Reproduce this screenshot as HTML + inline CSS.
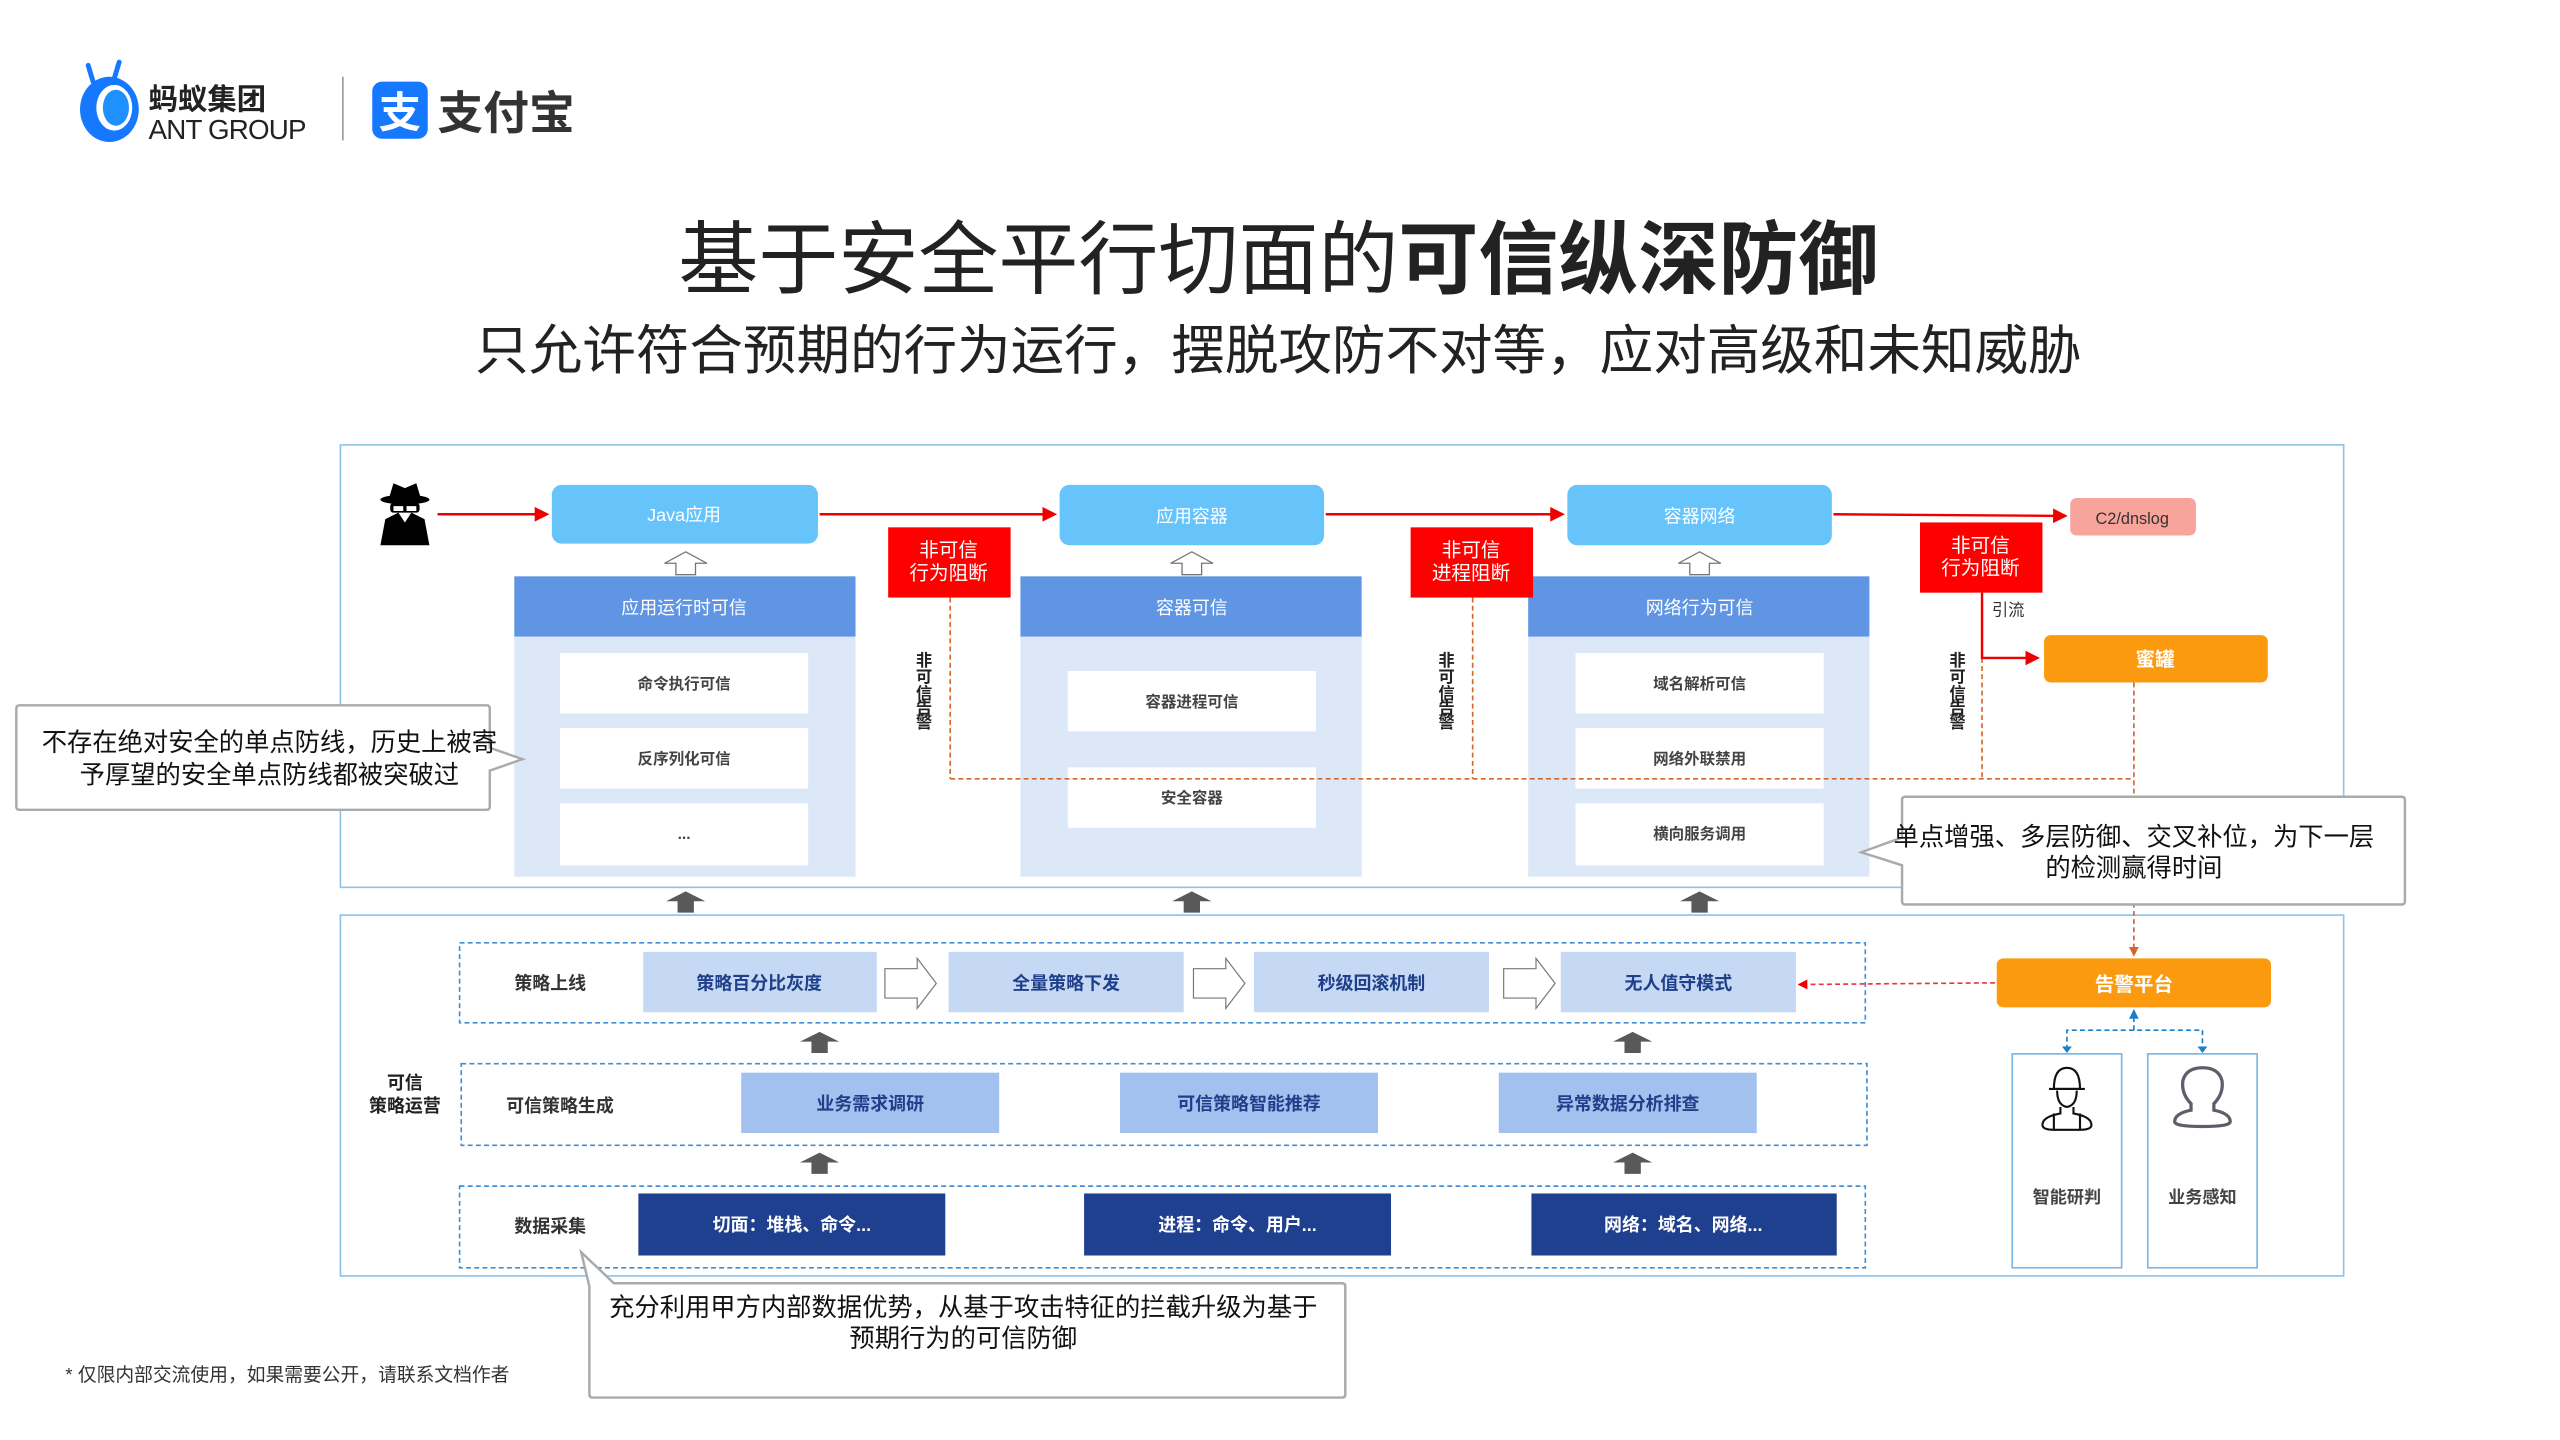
<!DOCTYPE html>
<html><head><meta charset="utf-8"><style>
html,body{margin:0;padding:0;background:#fff;width:2560px;height:1440px;overflow:hidden}
svg text{font-family:"Liberation Sans","Noto Sans CJK SC",sans-serif}
</style></head><body>
<svg width="2560" height="1440" viewBox="0 0 1568 882" xmlns="http://www.w3.org/2000/svg">
<defs>
<marker id="ar" markerWidth="6" markerHeight="6" refX="5" refY="3" orient="auto"><path d="M0,0 L6,3 L0,6 z" fill="#e00"/></marker>
<marker id="ao" markerWidth="6" markerHeight="6" refX="5" refY="3" orient="auto"><path d="M0,0 L6,3 L0,6 z" fill="#d4662a"/></marker>
<marker id="ab" markerWidth="6" markerHeight="6" refX="5" refY="3" orient="auto"><path d="M0,0 L6,3 L0,6 z" fill="#1a7fc9"/></marker>
<g id="up"><path d="M-12,6 L0,0 L12,6 L5,6 L5,13 L-5,13 L-5,6 z" fill="#595959"/></g>
<g id="hup"><path d="M-13,7 L0,0 L13,7 L6,7 L6,14 L-6,14 L-6,7 z" fill="#fff" stroke="#777" stroke-width="0.8"/></g>
<g id="hr"><path d="M0,7 L22,7 L22,0 L35,17 L22,34 L22,27 L0,27 z" fill="#fff" stroke="#777" stroke-width="0.8" transform="scale(0.9,0.9)"/></g>
</defs>

<!-- logos -->
<ellipse cx="67" cy="67" rx="18" ry="20" fill="#1677ff"/>
<ellipse cx="70" cy="66" rx="11" ry="14" fill="#fff"/>
<ellipse cx="71" cy="66" rx="8" ry="11" fill="#1e90ff"/>
<path d="M57,50 L54,40 M70,48 L73,38" stroke="#1677ff" stroke-width="3" stroke-linecap="round"/>
<text x="91" y="67" font-size="18" font-weight="bold" fill="#222">蚂蚁集团</text>
<text x="91" y="85" font-size="17" fill="#222" letter-spacing="-0.5">ANT GROUP</text>
<line x1="210" y1="47" x2="210" y2="86" stroke="#999" stroke-width="1"/>
<rect x="228" y="50" width="34" height="35" rx="6" fill="#1677ff"/>
<text x="245" y="78" font-size="26" font-weight="bold" fill="#fff" text-anchor="middle">支</text>
<text x="268" y="79" font-size="28" font-weight="bold" fill="#333">支付宝</text>

<!-- title -->
<text x="783" y="176" font-size="49" fill="#222" text-anchor="middle">基于安全平行切面的<tspan font-weight="bold">可信纵深防御</tspan></text>
<text x="783" y="226" font-size="32.8" fill="#222" text-anchor="middle">只允许符合预期的行为运行，摆脱攻防不对等，应对高级和未知威胁</text>

<!-- panels -->
<rect x="208.5" y="272.5" width="1227" height="271" fill="#fff" stroke="#8dc3ea" stroke-width="1"/>
<rect x="208.5" y="560.5" width="1227" height="221" fill="#fff" stroke="#8dc3ea" stroke-width="1"/>

<!-- spy -->
<g fill="#000">
<ellipse cx="248" cy="306" rx="15" ry="3"/>
<path d="M238,306 L241,296 L248,299 L255,296 L258,306 z"/>
<rect x="239" y="308" width="18" height="6" rx="2"/>
<path d="M233,334 L236,318 L244,314 L248,320 L252,314 L260,318 L263,334 z"/>
</g>
<path d="M241,310 L247,310 L247,313 L241,313 z M249,310 L255,310 L255,313 L249,313 z" fill="#fff"/>

<!-- top flow -->
<g stroke="#e00" stroke-width="1.5" fill="none">
<line x1="268" y1="315" x2="335" y2="315" marker-end="url(#ar)"/>
<line x1="502" y1="315" x2="646" y2="315" marker-end="url(#ar)"/>
<line x1="812" y1="315" x2="957" y2="315" marker-end="url(#ar)"/>
<line x1="1123" y1="315" x2="1265" y2="316" marker-end="url(#ar)"/>
</g>
<g font-size="11" fill="#fff" text-anchor="middle">
<rect x="338" y="297" width="163" height="36" rx="6" fill="#66c4fb"/><text x="419" y="319">Java应用</text>
<rect x="649" y="297" width="162" height="37" rx="6" fill="#66c4fb"/><text x="730" y="320">应用容器</text>
<rect x="960" y="297" width="162" height="37" rx="6" fill="#66c4fb"/><text x="1041" y="320">容器网络</text>
</g>
<rect x="1268" y="305" width="77" height="23" rx="4" fill="#f8a39b"/>
<text x="1306" y="321" font-size="10" fill="#333" text-anchor="middle">C2/dnslog</text>

<use href="#hup" x="420" y="338"/><use href="#hup" x="730" y="338"/><use href="#hup" x="1041" y="338"/>

<!-- columns -->
<g font-size="11" text-anchor="middle">
<rect x="315" y="353" width="209" height="37" fill="#5f95e3"/><text x="419" y="376" fill="#fff">应用运行时可信</text>
<rect x="315" y="390" width="209" height="147" fill="#dce8f8"/>
<rect x="625" y="353" width="209" height="37" fill="#5f95e3"/><text x="730" y="376" fill="#fff">容器可信</text>
<rect x="625" y="390" width="209" height="147" fill="#dce8f8"/>
<rect x="936" y="353" width="209" height="37" fill="#5f95e3"/><text x="1041" y="376" fill="#fff">网络行为可信</text>
<rect x="936" y="390" width="209" height="147" fill="#dce8f8"/>
</g>
<g fill="#fff">
<rect x="343" y="400" width="152" height="37"/><rect x="343" y="446" width="152" height="37"/><rect x="343" y="492" width="152" height="38"/>
<rect x="654" y="411" width="152" height="37"/><rect x="654" y="470" width="152" height="37"/>
<rect x="965" y="400" width="152" height="37"/><rect x="965" y="446" width="152" height="37"/><rect x="965" y="492" width="152" height="38"/>
</g>
<g font-size="9.5" font-weight="bold" fill="#444" text-anchor="middle">
<text x="419" y="422">命令执行可信</text><text x="419" y="468">反序列化可信</text><text x="419" y="514">...</text>
<text x="730" y="433">容器进程可信</text><text x="730" y="492">安全容器</text>
<text x="1041" y="422">域名解析可信</text><text x="1041" y="468">网络外联禁用</text><text x="1041" y="514">横向服务调用</text>
</g>

<!-- dashed orange alerts -->
<g stroke="#d4662a" stroke-width="1" stroke-dasharray="3,2" fill="none">
<line x1="582" y1="366" x2="582" y2="477"/>
<line x1="902" y1="366" x2="902" y2="477"/>
<line x1="1214" y1="403" x2="1214" y2="477"/>
<line x1="582" y1="477" x2="1307" y2="477"/>
<line x1="1307" y1="418" x2="1307" y2="585" marker-end="url(#ao)"/>
</g>
<path d="M1214,363 L1214,403 L1248,403" stroke="#e00" stroke-width="1.5" fill="none" marker-end="url(#ar)"/>
<text x="1220" y="377" font-size="10" fill="#333">引流</text>

<g fill="#fff" font-size="12" text-anchor="middle">
<rect x="544" y="323" width="75" height="43" fill="#f00"/><text x="581" y="341">非可信</text><text x="581" y="355">行为阻断</text>
<rect x="864" y="323" width="75" height="43" fill="#f00"/><text x="901" y="341">非可信</text><text x="901" y="355">进程阻断</text>
<rect x="1176" y="320" width="75" height="43" fill="#f00"/><text x="1213" y="338">非可信</text><text x="1213" y="352">行为阻断</text>
</g>
<g font-size="10" font-weight="bold" fill="#222" text-anchor="middle">
<text x="566" y="408">非</text><text x="566" y="418">可</text><text x="566" y="428">信</text><text x="566" y="437">告</text><text x="566" y="446">警</text>
<text x="886" y="408">非</text><text x="886" y="418">可</text><text x="886" y="428">信</text><text x="886" y="437">告</text><text x="886" y="446">警</text>
<text x="1199" y="408">非</text><text x="1199" y="418">可</text><text x="1199" y="428">信</text><text x="1199" y="437">告</text><text x="1199" y="446">警</text>
</g>
<rect x="1252" y="389" width="137" height="29" rx="4" fill="#fb9a0e"/>
<text x="1320" y="408" font-size="12" font-weight="bold" fill="#fff" text-anchor="middle">蜜罐</text>

<!-- callouts -->
<path d="M10,434 Q10,432 12,432 L298,432 Q300,432 300,434 L300,458 L320,465 L300,472 L300,494 Q300,496 298,496 L12,496 Q10,496 10,494 z" fill="#fff" stroke="#aaa" stroke-width="1.5"/>
<text x="165" y="460" font-size="15.5" fill="#111" text-anchor="middle">不存在绝对安全的单点防线，历史上被寄</text>
<text x="165" y="480" font-size="15.5" fill="#111" text-anchor="middle">予厚望的安全单点防线都被突破过</text>

<path d="M1165,490 Q1165,488 1167,488 L1471,488 Q1473,488 1473,490 L1473,552 Q1473,554 1471,554 L1167,554 Q1165,554 1165,552 L1165,530 L1140,522 L1165,513 z" fill="#fff" stroke="#aaa" stroke-width="1.5"/>
<text x="1307" y="518" font-size="15.5" fill="#111" text-anchor="middle">单点增强、多层防御、交叉补位，为下一层</text>
<text x="1307" y="537" font-size="15.5" fill="#111" text-anchor="middle">的检测赢得时间</text>

<use href="#up" x="420" y="546"/><use href="#up" x="730" y="546"/><use href="#up" x="1041" y="546"/>

<!-- bottom -->
<g fill="none" stroke="#3f8fd6" stroke-width="1" stroke-dasharray="3,2">
<rect x="281.5" y="577.5" width="861" height="49"/>
<rect x="282.5" y="651.5" width="861" height="50"/>
<rect x="281.5" y="726.5" width="861" height="50"/>
</g>
<text x="248" y="667" font-size="11" font-weight="bold" fill="#222" text-anchor="middle">可信</text>
<text x="248" y="681" font-size="11" font-weight="bold" fill="#222" text-anchor="middle">策略运营</text>
<g font-size="11" font-weight="bold" fill="#333" text-anchor="middle">
<text x="337" y="606">策略上线</text><text x="343" y="681">可信策略生成</text><text x="337" y="755">数据采集</text>
</g>
<g fill="#c5d9f4"><rect x="394" y="583" width="143" height="37"/><rect x="581" y="583" width="144" height="37"/><rect x="768" y="583" width="144" height="37"/><rect x="956" y="583" width="144" height="37"/></g>
<g fill="#a3c1ee"><rect x="454" y="657" width="158" height="37"/><rect x="686" y="657" width="158" height="37"/><rect x="918" y="657" width="158" height="37"/></g>
<g fill="#1f3f8f"><rect x="391" y="731" width="188" height="38"/><rect x="664" y="731" width="188" height="38"/><rect x="938" y="731" width="187" height="38"/></g>
<g font-size="11" font-weight="bold" fill="#1f3f8a" text-anchor="middle">
<text x="465" y="606">策略百分比灰度</text><text x="653" y="606">全量策略下发</text><text x="840" y="606">秒级回滚机制</text><text x="1028" y="606">无人值守模式</text>
<text x="533" y="680">业务需求调研</text><text x="765" y="680">可信策略智能推荐</text><text x="997" y="680">异常数据分析排查</text>
</g>
<g font-size="11" font-weight="bold" fill="#fff" text-anchor="middle">
<text x="485" y="754">切面：堆栈、命令...</text><text x="758" y="754">进程：命令、用户...</text><text x="1031" y="754">网络：域名、网络...</text>
</g>
<use href="#hr" x="542" y="587"/><use href="#hr" x="731" y="587"/><use href="#hr" x="921" y="587"/>
<use href="#up" x="502" y="632"/><use href="#up" x="1000" y="632"/>
<use href="#up" x="502" y="706"/><use href="#up" x="1000" y="706"/>

<rect x="1223" y="587" width="168" height="30" rx="4" fill="#fb9a0e"/>
<text x="1307" y="607" font-size="12" font-weight="bold" fill="#fff" text-anchor="middle">告警平台</text>
<line x1="1222" y1="602" x2="1102" y2="603" stroke="#e33" stroke-width="1" stroke-dasharray="3,2" marker-end="url(#ar)"/>
<g stroke="#1a7fc9" stroke-width="1" stroke-dasharray="3,2" fill="none">
<line x1="1307" y1="631" x2="1307" y2="619" marker-end="url(#ab)"/>
<path d="M1266,643 L1266,631 L1349,631 L1349,643"/>
</g>
<path d="M1263,641 L1269,641 L1266,645 z M1346,641 L1352,641 L1349,645 z" fill="#1a7fc9"/>
<rect x="1232.5" y="645.5" width="67" height="131" fill="#fff" stroke="#7ab6e0"/>
<rect x="1315.5" y="645.5" width="67" height="131" fill="#fff" stroke="#7ab6e0"/>
<g stroke="#111" stroke-width="1.3" fill="none">
<path d="M1258,667 Q1258,654 1266,654 Q1274,654 1274,667 z"/><line x1="1255" y1="667" x2="1277" y2="667"/>
<path d="M1260,668 Q1260,677 1266,678 Q1272,677 1272,668"/>
<path d="M1262,678 L1262,682 Q1251,684 1251,689 Q1251,692 1258,692 L1274,692 Q1281,692 1281,689 Q1281,684 1270,682 L1270,678"/>
<line x1="1258" y1="682" x2="1258" y2="692"/><line x1="1274" y1="682" x2="1274" y2="692"/>
</g>
<path d="M1342,676 Q1336,670 1337,662 Q1339,654 1349,654 Q1359,654 1361,662 Q1362,670 1356,676 L1356,680 Q1366,682 1366,687 Q1366,690 1349,690 Q1332,690 1332,687 Q1332,682 1342,680 z" fill="none" stroke="#5a5f6a" stroke-width="2"/>
<text x="1266" y="737" font-size="10.5" font-weight="bold" fill="#444" text-anchor="middle">智能研判</text>
<text x="1349" y="737" font-size="10.5" font-weight="bold" fill="#444" text-anchor="middle">业务感知</text>

<path d="M383,786 L822,786 Q824,786 824,788 L824,854 Q824,856 822,856 L363,856 Q361,856 361,854 L361,788 L356,767 L376,786 z" fill="#fff" stroke="#aaa" stroke-width="1.5"/>
<text x="590" y="806" font-size="15.5" fill="#111" text-anchor="middle">充分利用甲方内部数据优势，从基于攻击特征的拦截升级为基于</text>
<text x="590" y="825" font-size="15.5" fill="#111" text-anchor="middle">预期行为的可信防御</text>

<text x="40" y="846" font-size="11.5" fill="#333">* 仅限内部交流使用，如果需要公开，请联系文档作者</text>
</svg>
</body></html>
